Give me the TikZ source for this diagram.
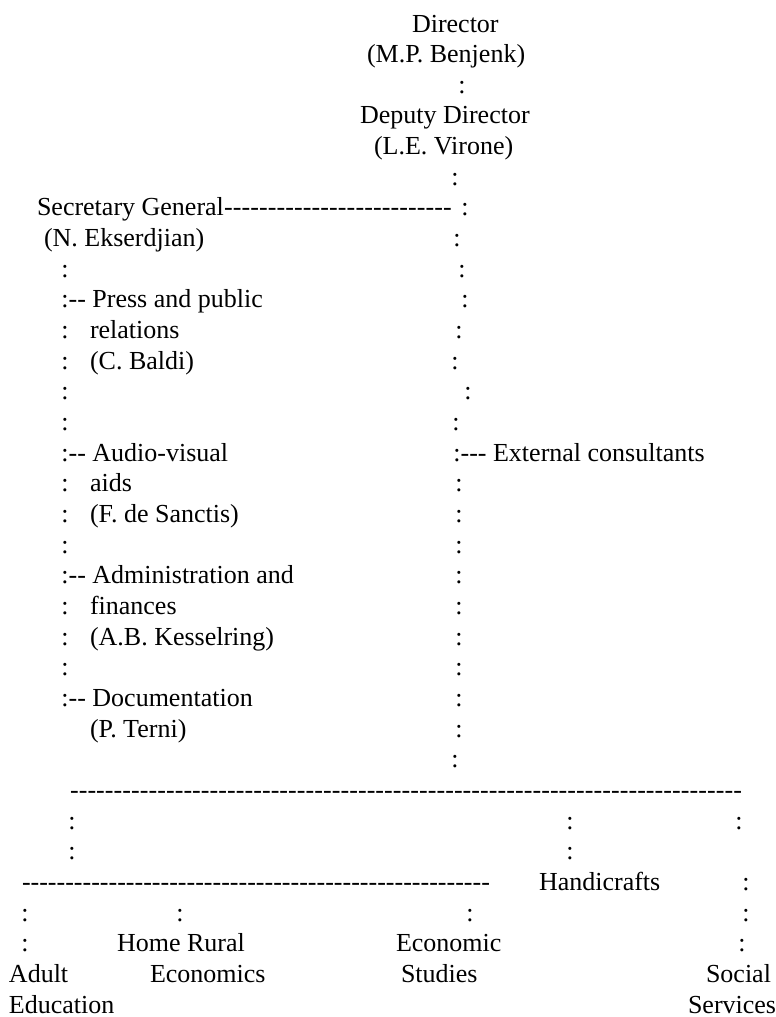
\documentclass[tikz,border=0pt]{standalone}
\usepackage{fontspec}
\setmainfont{Liberation Serif}
\newcommand{\hy}{\hbox{-}}
\newcommand{\dashrun}[1]{\hbox to #1{\xleaders\hbox{-}\hfill}}
\newcommand{\BL}[1]{32+30.66*#1}
\tikzset{
  txt/.style={inner sep=0pt, outer sep=0pt, anchor=base west, font=\fontsize{26}{30}\selectfont},
  col/.style={txt, anchor=base},
}
\begin{document}
\begin{tikzpicture}[x=1pt,y=-1pt]
\useasboundingbox (0,0) rectangle (776,1017);
% top
\node[txt] (dir)  at (412,\BL{0}) {Director};
\node[txt] (dirn) at (367,\BL{1}) {(M.P. Benjenk)};
\node[col] (c2)   at (462,\BL{2}) {:};
\node[txt] (dep)  at (360,\BL{3}) {Deputy Director};
\node[txt] (depn) at (374,\BL{4}) {(L.E. Virone)};
\node[col] (c5)   at (455,\BL{5}) {:};
% secretary general
\node[txt] (sg)   at (37,\BL{6}) {Secretary General};
\node[txt] (sgd)  at (sg.base east) {\dashrun{228pt}};
\node[col] (c6)   at (465,\BL{6}) {:};
\node[txt] (sgn)  at (44,\BL{7}) {(N. Ekserdjian)};
\node[col] (c7)   at (457,\BL{7}) {:};
\node[col] (l8)   at (65,\BL{8}) {:};
\node[col] (c8)   at (462,\BL{8}) {:};
% press
\node[txt] (pr)   at (61.4,\BL{9}) {:\hy\hy{} Press and public};
\node[col] (c9)   at (465,\BL{9}) {:};
\node[col] (l10)  at (65,\BL{10}) {:};
\node[txt] (pr2)  at (90,\BL{10}) {relations};
\node[col] (c10)  at (459,\BL{10}) {:};
\node[col] (l11)  at (65,\BL{11}) {:};
\node[txt] (prn)  at (90,\BL{11}) {(C. Baldi)};
\node[col] (c11)  at (455,\BL{11}) {:};
\node[col] (l12)  at (65,\BL{12}) {:};
\node[col] (c12)  at (468,\BL{12}) {:};
\node[col] (l13)  at (65,\BL{13}) {:};
\node[col] (c13)  at (456,\BL{13}) {:};
% audio-visual
\node[txt] (av)   at (61.4,\BL{14}) {:\hy\hy{} Audio-visual};
\node[txt] (ext)  at (453.4,\BL{14}) {:\hy\hy\hy{} External consultants};
\node[col] (l15)  at (65,\BL{15}) {:};
\node[txt] (av2)  at (90,\BL{15}) {aids};
\node[col] (c15)  at (459,\BL{15}) {:};
\node[col] (l16)  at (65,\BL{16}) {:};
\node[txt] (avn)  at (90,\BL{16}) {(F. de Sanctis)};
\node[col] (c16)  at (459,\BL{16}) {:};
\node[col] (l17)  at (65,\BL{17}) {:};
\node[col] (c17)  at (459,\BL{17}) {:};
% administration
\node[txt] (ad)   at (61.4,\BL{18}) {:\hy\hy{} Administration and};
\node[col] (c18)  at (459,\BL{18}) {:};
\node[col] (l19)  at (65,\BL{19}) {:};
\node[txt] (ad2)  at (90,\BL{19}) {finances};
\node[col] (c19)  at (459,\BL{19}) {:};
\node[col] (l20)  at (65,\BL{20}) {:};
\node[txt] (adn)  at (90,\BL{20}) {(A.B. Kesselring)};
\node[col] (c20)  at (459,\BL{20}) {:};
\node[col] (l21)  at (65,\BL{21}) {:};
\node[col] (c21)  at (459,\BL{21}) {:};
% documentation
\node[txt] (doc)  at (61.4,\BL{22}) {:\hy\hy{} Documentation};
\node[col] (c22)  at (459,\BL{22}) {:};
\node[txt] (docn) at (90,\BL{23}) {(P. Terni)};
\node[col] (c23)  at (459,\BL{23}) {:};
\node[col] (c24)  at (455,\BL{24}) {:};
% lower part
\node[txt] (d25)  at (70,\BL{25}) {\dashrun{672pt}};
\node[col] (a26)  at (72,\BL{26}) {:};
\node[col] (b26)  at (570,\BL{26}) {:};
\node[col] (e26)  at (739,\BL{26}) {:};
\node[col] (a27)  at (72,\BL{27}) {:};
\node[col] (b27)  at (570,\BL{27}) {:};
\node[txt] (d28)  at (22,\BL{28}) {\dashrun{468pt}};
\node[txt] (hc)   at (539,\BL{28}) {Handicrafts};
\node[col] (e28)  at (746,\BL{28}) {:};
\node[col] (a29)  at (25,\BL{29}) {:};
\node[col] (f29)  at (180,\BL{29}) {:};
\node[col] (g29)  at (470,\BL{29}) {:};
\node[col] (e29)  at (746,\BL{29}) {:};
\node[col] (a30)  at (25,\BL{30}) {:};
\node[txt] (hr)   at (117,\BL{30}) {Home Rural};
\node[txt] (ec)   at (396,\BL{30}) {Economic};
\node[col] (e30)  at (742,\BL{30}) {:};
\node[txt] (ae)   at (9,\BL{31}) {Adult};
\node[txt] (hr2)  at (150,\BL{31}) {Economics};
\node[txt] (ec2)  at (401,\BL{31}) {Studies};
\node[txt] (ss)   at (706,\BL{31}) {Social};
\node[txt] (ae2)  at (9,\BL{32}) {Education};
\node[txt] (ss2)  at (688,\BL{32}) {Services};
\end{tikzpicture}
\end{document}
